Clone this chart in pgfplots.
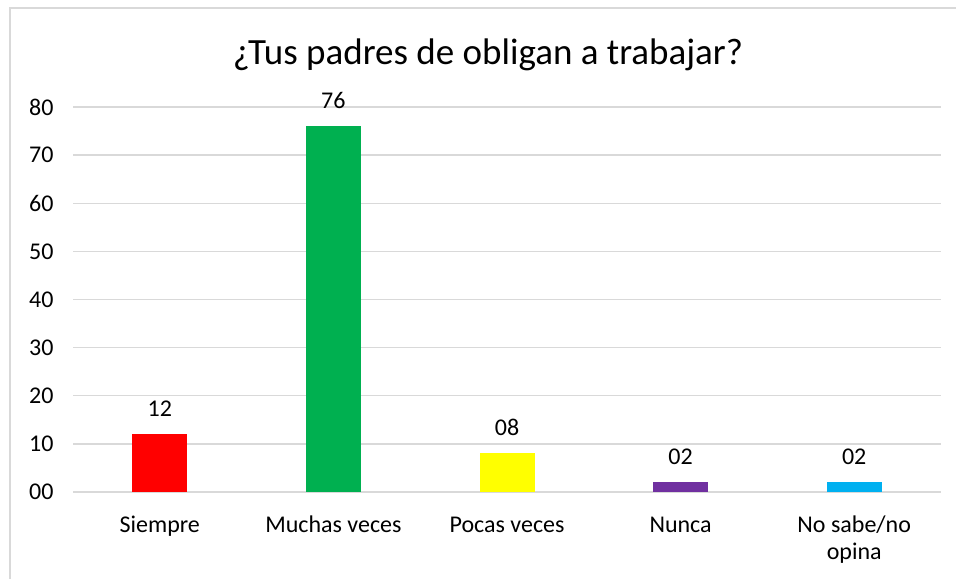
\documentclass[border=0pt]{standalone}
\usepackage{fontspec}
\setmainfont{Carlito}
\usepackage{pgfplots}
\pgfplotsset{compat=1.18}
\definecolor{gridc}{HTML}{D9D9D9}
\definecolor{cred}{HTML}{FF0000}
\definecolor{cgreen}{HTML}{00B050}
\definecolor{cyellow}{HTML}{FFFF00}
\definecolor{cpurple}{HTML}{7030A0}
\definecolor{cblue}{HTML}{00B0F0}
\begin{document}
\begin{tikzpicture}[x=1bp,y=1bp]
\useasboundingbox (0,0) rectangle (956,579);
\draw[gridc, line width=1.5bp] (10,0) -- (10,571) -- (956,571);
\node[font=\fontsize{37bp}{42bp}\selectfont, anchor=base] at (488,514) {¿Tus padres de obligan a trabajar?};
\begin{axis}[
  at={(73bp,87bp)}, anchor=south west,
  scale only axis, width=868bp, height=385bp,
  xmin=-0.5, xmax=4.5, ymin=0, ymax=80,
  ytick={0,10,...,80},
  yticklabels={00,10,20,30,40,50,60,70,80},
  xtick={0,1,2,3,4},
  xticklabels={\strut Siempre,\strut Muchas veces,\strut Pocas veces,\strut Nunca,{\strut No sabe/no\\\strut opina}},
  xticklabel style={align=center, anchor=north, yshift=-18bp, font=\fontsize{24bp}{27bp}\selectfont},
  yticklabel style={xshift=-16bp, font=\fontsize{24bp}{27bp}\selectfont},
  major tick length=0pt,
  axis line style={draw=none},
  ymajorgrids, grid style={gridc, line width=1.4bp},
  ybar, bar width=55bp, bar shift=0pt,
  point meta=explicit symbolic,
  nodes near coords,
  every node near coord/.append style={font=\fontsize{24bp}{27bp}\selectfont, black, yshift=14bp},
  clip=false,
]
\addplot[fill=cred, draw=none] coordinates {(0,12) [12]};
\addplot[fill=cgreen, draw=none] coordinates {(1,76) [76]};
\addplot[fill=cyellow, draw=none] coordinates {(2,8) [08]};
\addplot[fill=cpurple, draw=none] coordinates {(3,2) [02]};
\addplot[fill=cblue, draw=none] coordinates {(4,2) [02]};
\end{axis}
\end{tikzpicture}
\end{document}
